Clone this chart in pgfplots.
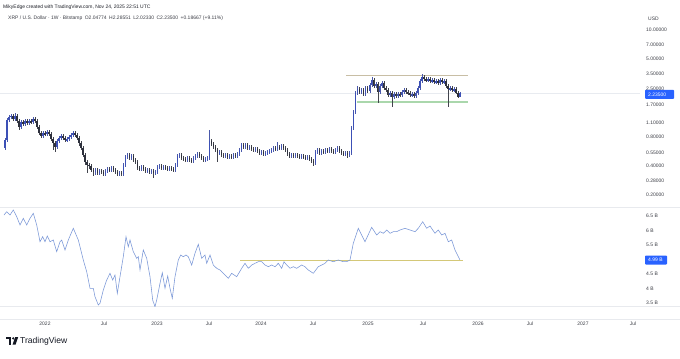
\documentclass[border=0pt]{standalone}
\usepackage{pgfplots}
\usepackage{pgfplotstable}
\usepackage{fontspec}
\setmainfont{Liberation Sans}
\pgfplotsset{compat=1.18}
\definecolor{upc}{RGB}{60,80,182}
\definecolor{downc}{RGB}{45,48,60}
\definecolor{lowline}{RGB}{120,150,215}
\definecolor{yline}{RGB}{212,200,120}
\definecolor{resline}{RGB}{200,190,165}
\definecolor{supline}{RGB}{170,215,172}
\definecolor{tvblue}{RGB}{41,98,255}
\definecolor{txt}{RGB}{60,62,70}
\definecolor{sep}{RGB}{232,234,238}

\pgfplotstableread{
i o h l c
0 0.609 0.772 0.581 0.736
1 0.736 1.241 0.702 1.183
2 1.183 1.332 1.128 1.271
3 1.271 1.364 1.212 1.301
4 1.301 1.364 1.156 1.212
5 1.212 1.397 1.156 1.301
6 1.301 1.364 1.102 1.156
7 1.156 1.212 0.934 1.002
8 1.002 1.183 0.956 1.128
9 1.128 1.183 1.026 1.076
10 1.076 1.212 1.026 1.156
11 1.156 1.212 1.051 1.102
12 1.102 1.212 1.051 1.156
13 1.156 1.212 1.076 1.128
14 1.128 1.271 1.076 1.212
15 1.212 1.271 1.102 1.156
16 1.156 1.212 0.956 1.002
17 1.002 1.051 0.829 0.869
18 0.869 0.912 0.772 0.810
19 0.810 0.912 0.772 0.869
20 0.869 0.912 0.810 0.849
21 0.849 0.934 0.810 0.890
22 0.890 0.934 0.810 0.849
23 0.849 0.890 0.719 0.754
24 0.754 0.791 0.581 0.686
25 0.686 0.719 0.554 0.624
26 0.624 0.754 0.595 0.719
27 0.719 0.810 0.686 0.772
28 0.772 0.849 0.736 0.810
29 0.810 0.849 0.736 0.772
30 0.772 0.810 0.702 0.736
31 0.736 0.791 0.702 0.754
32 0.754 0.829 0.719 0.791
33 0.791 0.869 0.754 0.829
34 0.829 0.912 0.791 0.869
35 0.869 0.912 0.791 0.829
36 0.829 0.869 0.736 0.772
37 0.772 0.810 0.639 0.686
38 0.686 0.719 0.581 0.609
39 0.609 0.639 0.492 0.516
40 0.516 0.541 0.407 0.437
41 0.437 0.458 0.337 0.407
42 0.407 0.427 0.370 0.398
43 0.398 0.417 0.345 0.361
44 0.361 0.379 0.313 0.345
45 0.345 0.379 0.321 0.361
46 0.361 0.379 0.321 0.337
47 0.337 0.370 0.321 0.353
48 0.353 0.370 0.329 0.345
49 0.345 0.361 0.313 0.329
50 0.329 0.370 0.313 0.353
51 0.353 0.388 0.337 0.370
52 0.370 0.388 0.345 0.361
53 0.361 0.398 0.345 0.379
54 0.379 0.398 0.345 0.361
55 0.361 0.379 0.329 0.345
56 0.345 0.361 0.313 0.329
57 0.329 0.353 0.313 0.337
58 0.337 0.353 0.313 0.329
59 0.329 0.427 0.313 0.407
60 0.407 0.516 0.388 0.492
61 0.492 0.541 0.469 0.516
62 0.516 0.541 0.458 0.480
63 0.480 0.528 0.458 0.504
64 0.504 0.528 0.437 0.458
65 0.458 0.480 0.417 0.437
66 0.437 0.458 0.361 0.379
67 0.379 0.398 0.353 0.370
68 0.370 0.407 0.353 0.388
69 0.388 0.407 0.353 0.370
70 0.370 0.388 0.337 0.353
71 0.353 0.379 0.337 0.361
72 0.361 0.379 0.329 0.345
73 0.345 0.370 0.329 0.353
74 0.353 0.370 0.299 0.337
75 0.337 0.361 0.321 0.345
76 0.345 0.407 0.329 0.388
77 0.388 0.417 0.370 0.398
78 0.398 0.417 0.361 0.379
79 0.379 0.407 0.361 0.388
80 0.388 0.407 0.361 0.379
81 0.379 0.398 0.353 0.370
82 0.370 0.398 0.353 0.379
83 0.379 0.398 0.353 0.370
84 0.370 0.388 0.345 0.361
85 0.361 0.427 0.345 0.407
86 0.407 0.528 0.388 0.504
87 0.504 0.541 0.480 0.516
88 0.516 0.541 0.458 0.480
89 0.480 0.504 0.447 0.469
90 0.469 0.492 0.437 0.458
91 0.458 0.504 0.437 0.480
92 0.480 0.504 0.437 0.458
93 0.458 0.480 0.427 0.447
94 0.447 0.504 0.427 0.480
95 0.480 0.528 0.458 0.504
96 0.504 0.554 0.480 0.528
97 0.528 0.554 0.480 0.504
98 0.504 0.528 0.458 0.480
99 0.480 0.504 0.437 0.458
100 0.458 0.492 0.437 0.469
101 0.469 0.504 0.447 0.480
102 0.480 0.934 0.458 0.719
103 0.719 0.754 0.639 0.670
104 0.670 0.702 0.595 0.624
105 0.624 0.654 0.554 0.581
106 0.581 0.609 0.437 0.541
107 0.541 0.581 0.516 0.554
108 0.554 0.581 0.492 0.516
109 0.516 0.541 0.480 0.504
110 0.504 0.541 0.480 0.516
111 0.516 0.541 0.469 0.492
112 0.492 0.528 0.469 0.504
113 0.504 0.528 0.469 0.492
114 0.492 0.541 0.469 0.516
115 0.516 0.541 0.480 0.504
116 0.504 0.554 0.480 0.528
117 0.528 0.609 0.504 0.581
118 0.581 0.686 0.554 0.654
119 0.654 0.686 0.595 0.624
120 0.624 0.686 0.595 0.654
121 0.654 0.686 0.581 0.609
122 0.609 0.654 0.581 0.624
123 0.624 0.654 0.567 0.595
124 0.595 0.624 0.554 0.581
125 0.581 0.624 0.554 0.595
126 0.595 0.624 0.541 0.567
127 0.567 0.595 0.516 0.541
128 0.541 0.581 0.516 0.554
129 0.554 0.581 0.504 0.528
130 0.528 0.567 0.504 0.541
131 0.541 0.581 0.516 0.554
132 0.554 0.595 0.528 0.567
133 0.567 0.609 0.541 0.581
134 0.581 0.639 0.554 0.609
135 0.609 0.639 0.567 0.595
136 0.595 0.702 0.567 0.624
137 0.624 0.654 0.581 0.609
138 0.609 0.670 0.581 0.639
139 0.639 0.670 0.581 0.609
140 0.609 0.639 0.554 0.581
141 0.581 0.609 0.504 0.528
142 0.528 0.554 0.480 0.504
143 0.504 0.541 0.480 0.516
144 0.516 0.541 0.480 0.504
145 0.504 0.541 0.480 0.516
146 0.516 0.541 0.480 0.504
147 0.504 0.528 0.469 0.492
148 0.492 0.528 0.469 0.504
149 0.504 0.528 0.469 0.492
150 0.492 0.516 0.458 0.480
151 0.480 0.516 0.458 0.492
152 0.492 0.516 0.447 0.469
153 0.469 0.492 0.427 0.447
154 0.447 0.469 0.398 0.427
155 0.427 0.581 0.407 0.554
156 0.554 0.609 0.528 0.581
157 0.581 0.609 0.516 0.541
158 0.541 0.595 0.516 0.567
159 0.567 0.595 0.528 0.554
160 0.554 0.609 0.528 0.581
161 0.581 0.609 0.541 0.567
162 0.567 0.624 0.541 0.595
163 0.595 0.624 0.541 0.567
164 0.567 0.595 0.528 0.554
165 0.554 0.609 0.528 0.581
166 0.581 0.639 0.554 0.609
167 0.609 0.639 0.541 0.567
168 0.567 0.595 0.516 0.541
169 0.541 0.567 0.504 0.528
170 0.528 0.567 0.504 0.541
171 0.541 0.567 0.480 0.516
172 0.516 0.567 0.492 0.541
173 0.541 1.026 0.516 0.979
174 0.979 1.500 0.934 1.430
175 1.430 2.353 1.364 2.244
176 2.244 2.650 2.140 2.468
177 2.468 2.588 2.192 2.298
178 2.298 2.527 2.192 2.410
179 2.410 2.527 2.090 2.192
180 2.192 2.650 2.090 2.527
181 2.527 2.650 2.244 2.353
182 2.353 2.846 2.244 2.714
183 2.714 3.281 2.588 3.055
184 3.055 3.204 2.527 2.650
185 2.650 2.914 2.527 2.779
186 2.779 2.914 1.771 2.298
187 2.298 2.779 2.192 2.650
188 2.650 2.984 2.527 2.846
189 2.846 2.984 2.410 2.527
190 2.527 2.650 2.298 2.410
191 2.410 2.527 2.042 2.140
192 2.140 2.353 2.042 2.244
193 2.244 2.353 1.611 2.042
194 2.042 2.298 1.947 2.192
195 2.192 2.298 1.994 2.090
196 2.090 2.298 1.994 2.192
197 2.192 2.298 2.042 2.140
198 2.140 2.410 2.042 2.298
199 2.298 2.527 2.192 2.410
200 2.410 2.527 2.192 2.298
201 2.298 2.410 2.140 2.244
202 2.244 2.353 2.042 2.140
203 2.140 2.298 2.042 2.192
204 2.192 2.298 1.994 2.090
205 2.090 2.353 1.994 2.244
206 2.244 2.650 2.140 2.527
207 2.527 3.129 2.410 2.984
208 2.984 3.523 2.846 3.281
209 3.281 3.440 2.984 3.129
210 3.129 3.281 2.914 3.055
211 3.055 3.281 2.914 3.129
212 3.129 3.281 2.846 2.984
213 2.984 3.204 2.846 3.055
214 3.055 3.204 2.779 2.914
215 2.914 3.129 2.779 2.984
216 2.984 3.129 2.714 2.846
217 2.846 3.204 2.714 3.055
218 3.055 3.204 2.779 2.914
219 2.914 3.129 2.779 2.984
220 2.984 3.129 2.527 2.650
221 2.650 2.779 1.611 2.468
222 2.468 2.650 2.353 2.527
223 2.527 2.650 2.298 2.410
224 2.410 2.588 2.298 2.468
225 2.468 2.588 2.192 2.244
226 2.244 2.353 1.994 2.048
227 2.048 2.286 2.023 2.235
}\candles

\pgfplotstableread{
i v
-0.5 6.534
0.85 6.648
2.50 6.534
4.14 6.707
5.84 6.476
7.49 6.190
9.13 6.421
10.83 6.190
12.48 6.421
14.12 6.593
15.82 6.190
17.47 5.614
18.81 5.786
19.96 5.614
21.11 5.810
22.46 5.614
24.10 5.672
25.80 5.269
27.45 5.614
28.29 5.672
29.94 5.328
31.59 5.672
34.08 6.076
36.58 5.672
39.07 4.983
40.77 4.579
42.42 4.007
44.06 4.007
44.91 3.717
46.56 3.431
47.41 3.490
49.05 3.948
50.75 4.293
52.40 4.524
53.74 4.293
54.89 4.466
56.04 3.834
57.39 4.407
59.03 5.097
60.38 5.786
61.53 5.441
62.38 5.672
64.02 5.269
65.72 5.041
66.52 5.097
67.37 4.638
69.01 5.328
70.71 5.041
72.36 4.407
73.70 3.603
74.85 3.372
75.70 3.603
77.35 4.179
78.49 4.545
79.84 4.007
81.19 4.431
82.34 4.007
83.48 3.662
84.83 4.407
86.48 4.983
87.67 5.155
88.97 5.097
90.32 5.155
91.47 5.097
93.16 4.810
94.81 5.214
96.46 5.524
98.15 5.041
99.80 5.155
100.65 4.869
102.30 5.155
103.94 4.810
105.64 4.697
107.29 4.638
108.93 4.524
111.43 4.352
113.12 4.524
115.62 4.407
118.11 4.697
119.76 4.869
121.41 4.697
123.10 4.810
124.75 4.869
126.40 4.924
128.09 4.924
129.74 4.810
131.39 4.752
133.08 4.810
134.73 4.752
136.38 4.869
138.07 4.697
139.22 4.924
140.57 4.810
142.22 4.697
143.86 4.752
145.56 4.697
148.05 4.810
149.70 4.752
151.35 4.638
153.84 4.524
156.34 4.752
158.03 4.810
159.68 4.869
161.33 4.983
163.82 4.924
166.32 4.983
168.81 4.924
170.51 4.924
172.16 4.983
173.80 5.559
176.30 6.076
179.64 5.614
182.98 6.110
185.48 5.845
187.13 5.959
188.77 5.903
190.47 6.017
192.12 5.903
193.76 5.959
195.46 5.959
197.11 6.017
199.60 6.076
202.10 6.017
204.59 5.959
206.24 6.076
208.43 6.303
210.43 6.076
212.08 6.155
214.57 5.903
216.22 6.017
217.91 5.845
219.56 5.903
221.21 5.614
222.90 5.672
224.55 5.328
227.00 4.990
}\lowdata

\pgfplotsset{
  candle/.style n args={2}{draw=none, mark=none, forget plot,
    error bars/.cd, y dir=both, y explicit, error mark=none,
    error bar style={draw=#1, line width=#2}, /pgfplots/.cd},
}

\begin{document}
\begin{tikzpicture}[font=\fontsize{5}{6}\selectfont]
\useasboundingbox (0,0) rectangle (680bp,-359bp);
\fill[white] (0,0) rectangle (680bp,-359bp);
% pane separators
\draw[sep, line width=0.6bp] (0,-207.5bp) -- (680bp,-207.5bp);
\draw[sep, line width=0.6bp] (0,-306bp) -- (680bp,-306bp);
\draw[sep, line width=0.6bp] (0,-319bp) -- (680bp,-319bp);

% ---------- price pane ----------
\begin{axis}[
  at={(0bp,-207bp)}, anchor=south west, scale only axis,
  width=640bp, height=192bp,
  xmin=-2.495, xmax=316.87,
  ymin=-0.8229, ymax=1.1545,
  axis line style={draw=none}, tick style={draw=none},
  xtick=\empty,
  yticklabel pos=right,
  ytick={1,0.8451,0.6990,0.5441,0.3979,0.2304,0.0414,-0.0969,-0.2596,-0.3979,-0.5528,-0.6990},
  yticklabels={10.00000,7.00000,5.00000,3.50000,2.50000,1.70000,1.10000,0.80000,0.55000,0.40000,0.28000,0.20000},
  yticklabel style={anchor=west, inner sep=0pt, xshift=6bp, text=txt, font=\fontsize{5}{6}\selectfont},
]
% last price line
\addplot[line width=0.9bp, color={rgb,255:red,232;green,235;blue,240}] coordinates {(-3,0.3493) (317,0.3493)};
% resistance & support
\addplot[resline, line width=0.8bp] coordinates {(170.2,0.5366) (231.0,0.5366)};
\addplot[supline, line width=2.4bp] coordinates {(175.6,0.2616) (231.0,0.2616)};
% wicks
\addplot[restrict expr to domain={\thisrow{c}-\thisrow{o}}{0:100}, candle={upc!80!gray}{0.45bp}]
  table[x=i, y expr={(log10(\thisrow{h})+log10(\thisrow{l}))/2},
        y error expr={(log10(\thisrow{h})-log10(\thisrow{l}))/2}] {\candles};
\addplot[restrict expr to domain={\thisrow{c}-\thisrow{o}}{-100:-0.00001}, candle={downc!75!gray}{0.45bp}]
  table[x=i, y expr={(log10(\thisrow{h})+log10(\thisrow{l}))/2},
        y error expr={(log10(\thisrow{h})-log10(\thisrow{l}))/2}] {\candles};
% bodies
\addplot[restrict expr to domain={\thisrow{c}-\thisrow{o}}{0:100}, candle={upc}{1.35bp}]
  table[x=i, y expr={(log10(\thisrow{o})+log10(\thisrow{c}))/2},
        y error expr={max(abs(log10(\thisrow{c})-log10(\thisrow{o}))/2,0.002)}] {\candles};
\addplot[restrict expr to domain={\thisrow{c}-\thisrow{o}}{-100:-0.00001}, candle={downc}{1.35bp}]
  table[x=i, y expr={(log10(\thisrow{o})+log10(\thisrow{c}))/2},
        y error expr={max(abs(log10(\thisrow{c})-log10(\thisrow{o}))/2,0.002)}] {\candles};
\end{axis}

% ---------- lower pane ----------
\begin{axis}[
  at={(0bp,-306bp)}, anchor=south west, scale only axis,
  width=640bp, height=97bp,
  xmin=-2.495, xmax=316.87,
  ymin=3.397, ymax=6.741,
  axis line style={draw=none}, tick style={draw=none},
  yticklabel pos=right,
  ytick={6.5,6,5.5,4.5,4,3.5},
  yticklabels={6.5 B,6 B,5.5 B,4.5 B,4 B,3.5 B},
  yticklabel style={anchor=west, inner sep=0pt, xshift=6bp, text=txt, font=\fontsize{5}{6}\selectfont},
  xtick={19.96,49.40,75.85,101.80,127.74,153.69,181.14,208.58,236.03,261.98,288.42,313.37},
  xticklabels={2022,Jul,2023,Jul,2024,Jul,2025,Jul,2026,Jul,2027,Jul},
  xticklabel style={anchor=center, inner sep=0pt, yshift=-18bp, text=txt, font=\fontsize{5}{6}\selectfont},
]
\addplot[yline, line width=0.7bp] coordinates {(117.3,4.965) (228.5,4.965)};
\addplot[lowline, line width=0.55bp, mark=none] table[x=i, y=v] {\lowdata};
\end{axis}

% ---------- texts ----------
\node[anchor=west, inner sep=0pt, text={rgb,255:red,30;green,32;blue,40}] at (3bp,-7bp) {MikyEdge created with TradingView.com, Nov 24, 2025 22:51 UTC};
\node[anchor=west, inner sep=0pt, text=txt] at (8bp,-18bp) {XRP / U.S. Dollar · 1W · Bitstamp\enspace O2.04774\enspace H2.28551\enspace L2.02330\enspace C2.23500\enspace +0.18667 (+9.11\%)};
\node[anchor=west, inner sep=0pt, text=txt] at (648bp,-19bp) {USD};
% last value labels
\fill[tvblue, rounded corners=0.8bp] (645bp,-89.8bp) rectangle (674bp,-98.8bp);
\node[anchor=west, inner sep=0pt, text=white] at (648bp,-94.3bp) {2.23500};
\fill[tvblue, rounded corners=0.8bp] (645bp,-255.5bp) rectangle (667bp,-264.5bp);
\node[anchor=west, inner sep=0pt, text=white] at (648bp,-260bp) {4.99 B};
% TradingView logo
\begin{scope}[fill={rgb,255:red,19;green,23;blue,34}]
\fill (6bp,-337bp) rectangle (11.2bp,-339.2bp);
\fill (8.6bp,-337bp) rectangle (11.2bp,-344.5bp);
\fill (13.2bp,-338.3bp) circle (1.25bp);
\fill (15.2bp,-337bp) -- (18.2bp,-337bp) -- (15.6bp,-344.5bp) -- (12.6bp,-344.5bp) -- cycle;
\end{scope}
\node[anchor=west, inner sep=0pt, text={rgb,255:red,19;green,23;blue,34}, font=\fontsize{8.6}{10}\selectfont] at (20bp,-340.8bp) {TradingView};
\end{tikzpicture}
\end{document}
